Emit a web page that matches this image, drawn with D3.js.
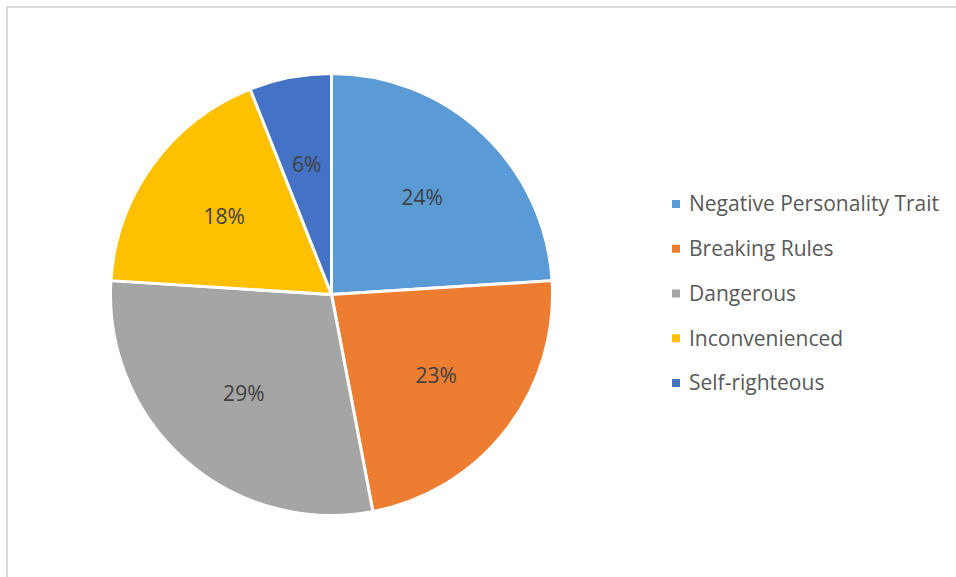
<!DOCTYPE html>
<html>
<head>
<meta charset="utf-8">
<script src="https://cdn.jsdelivr.net/npm/d3@7"></script>
<style>
  body { margin: 0; background: #fff; }
  text { font-family: "Open Sans", sans-serif; }
</style>
</head>
<body>
<script>
// categories and shares (percent)
var categories = ["Negative Personality Trait", "Breaking Rules", "Dangerous", "Inconvenienced", "Self-righteous"];
var shares = [24, 23, 29, 18, 6];
var colors = ["#5b9bd5", "#ed7d31", "#a5a5a5", "#ffc000", "#4472c4"];

var width = 956,
    height = 577,
    cx = 331.5,
    cy = 294.5,
    radius = 221;

var svg = d3.select("body").append("svg")
    .attr("width", width)
    .attr("height", height);

// chart frame (only top/left visible in the crop)
svg.append("rect")
    .attr("x", 7)
    .attr("y", 7)
    .attr("width", width)
    .attr("height", height)
    .attr("fill", "none")
    .attr("stroke", "#d9d9d9")
    .attr("stroke-width", 2);

var data = categories.map(function(c, i) { return {name: c, value: shares[i], color: colors[i]}; });

var pie = d3.pie()
    .sort(null)
    .value(function(d) { return d.value; });

var arc = d3.arc().innerRadius(0).outerRadius(radius);
var labelArc = d3.arc().innerRadius(radius * 0.6).outerRadius(radius * 0.6);

var g = svg.append("g")
    .attr("transform", "translate(" + cx + "," + cy + ")");

var arcs = pie(data);

g.selectAll("path")
    .data(arcs)
    .enter()
    .append("path")
    .attr("d", arc)
    .attr("fill", function(d) { return d.data.color; })
    .attr("stroke", "#fff")
    .attr("stroke-width", 3)
    .attr("stroke-linejoin", "round");

g.selectAll("text.lbl")
    .data(arcs)
    .enter()
    .append("text")
    .attr("class", "lbl")
    .attr("transform", function(d) { return "translate(" + labelArc.centroid(d) + ")"; })
    .attr("text-anchor", "middle")
    .attr("dy", "0.35em")
    .attr("font-size", "21px")
    .attr("fill", "#404040")
    .text(function(d) { return d.data.value + "%"; });

// legend
var legX = 672,
    legY = 204,
    legStep = 44.75;

var legend = svg.append("g").attr("class", "legend")
    .selectAll("g")
    .data(data)
    .enter()
    .append("g")
    .attr("transform", function(d, i) { return "translate(" + legX + "," + (legY + i * legStep) + ")"; });

legend.append("rect")
    .attr("x", 0)
    .attr("y", -4)
    .attr("width", 8)
    .attr("height", 8)
    .attr("fill", function(d) { return d.color; });

legend.append("text")
    .attr("x", 17)
    .attr("dy", "0.35em")
    .attr("font-size", "21px")
    .attr("fill", "#595959")
    .text(function(d) { return d.name; });
</script>
</body>
</html>
